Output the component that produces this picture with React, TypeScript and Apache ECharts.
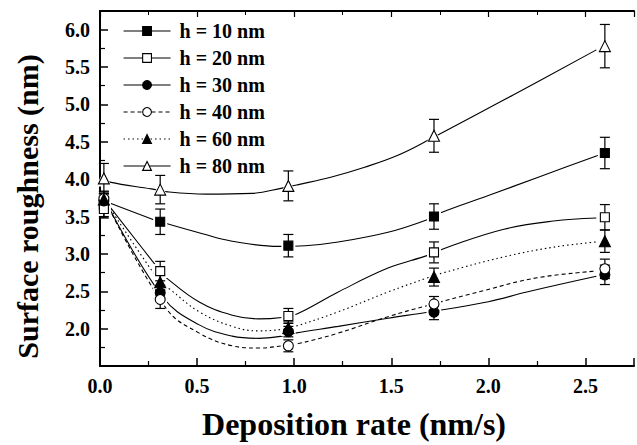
import React, { useEffect, useRef } from "react";
import * as echarts from "echarts";

// Measurement positions (deposition rate, nm/s)
const rates = [0.02, 0.31, 0.97, 1.72, 2.6];

// Measured roughness (nm) and error bar half-widths
const h10 = [3.65, 3.43, 3.11, 3.5, 4.35];
const h10Err = [0.15, 0.17, 0.15, 0.17, 0.21];
const h20 = [3.6, 2.77, 2.17, 3.02, 3.49];
const h20Err = [0.12, 0.13, 0.1, 0.14, 0.17];
const h30 = [3.71, 2.48, 1.96, 2.22, 2.72];
const h30Err = [0.1, 0.1, 0.07, 0.1, 0.13];
const h40 = [3.74, 2.39, 1.77, 2.33, 2.8];
const h40Err = [0.1, 0.12, 0.08, 0.1, 0.13];
const h60 = [3.73, 2.62, 2.01, 2.69, 3.17];
const h60Err = [0.1, 0.1, 0.08, 0.12, 0.15];
const h80 = [4.01, 3.86, 3.91, 4.58, 5.78];
const h80Err = [0.2, 0.19, 0.2, 0.22, 0.29];

// Fitted curves: [x, y]
const fit10 = [[0.02, 3.71], [0.273, 3.46], [0.31, 3.43], [0.528, 3.27], [0.681, 3.17], [0.92, 3.1], [1.056, 3.11], [1.227, 3.16], [1.483, 3.29], [1.687, 3.46], [1.755, 3.55], [2.0, 3.78], [2.25, 4.02], [2.556, 4.31], [2.6, 4.35]];
const fit20 = [[0.03, 3.7], [0.31, 2.77], [0.332, 2.7], [0.511, 2.355], [0.681, 2.18], [0.818, 2.13], [0.937, 2.15], [1.014, 2.195], [1.227, 2.49], [1.483, 2.81], [1.687, 2.98], [1.79, 3.09], [2.08, 3.33], [2.335, 3.44], [2.556, 3.48]];
const fit30 = [[0.03, 3.7], [0.324, 2.42], [0.511, 2.05], [0.681, 1.9], [0.818, 1.87], [0.937, 1.9], [1.005, 1.94], [1.227, 2.03], [1.483, 2.14], [1.687, 2.22], [2.0, 2.36], [2.198, 2.49], [2.556, 2.7]];
const fit40 = [[0.03, 3.7], [0.341, 2.27], [0.511, 1.94], [0.681, 1.77], [0.818, 1.74], [0.937, 1.77], [1.022, 1.8], [1.227, 1.94], [1.483, 2.16], [1.687, 2.31], [1.977, 2.51], [2.25, 2.68], [2.556, 2.77]];
const fit60 = [[0.03, 3.7], [0.31, 2.62], [0.358, 2.53], [0.511, 2.225], [0.681, 2.03], [0.818, 1.97], [0.937, 1.99], [1.005, 2.03], [1.227, 2.225], [1.483, 2.49], [1.687, 2.68], [1.772, 2.75], [2.08, 2.96], [2.335, 3.09], [2.556, 3.16]];
const fit80 = [[0.02, 4.01], [0.051, 3.96], [0.264, 3.87], [0.349, 3.83], [0.545, 3.8], [0.784, 3.81], [0.937, 3.88], [1.022, 3.927], [1.193, 4.03], [1.363, 4.16], [1.534, 4.32], [1.696, 4.53], [2.13, 5.13], [2.556, 5.73]];

const names = ["h = 10 nm", "h = 20 nm", "h = 30 nm", "h = 40 nm", "h = 60 nm", "h = 80 nm"];

const FONT = "Times New Roman, Liberation Serif, DejaVu Serif, serif";

export default function App() {
  const ref = useRef<HTMLDivElement>(null);
  useEffect(() => {
    document.body.style.margin = "0";
    if (!ref.current) return;
    const chart = echarts.init(ref.current, undefined, { renderer: "svg" });

    const groups = [
      { name: names[0], y: h10, e: h10Err, fit: fit10, symbol: "rect", size: 9, fill: "#000", dash: "solid" as any },
      { name: names[1], y: h20, e: h20Err, fit: fit20, symbol: "rect", size: 9, fill: "#fff", dash: "solid" as any },
      { name: names[2], y: h30, e: h30Err, fit: fit30, symbol: "circle", size: 10, fill: "#000", dash: "solid" as any },
      { name: names[3], y: h40, e: h40Err, fit: fit40, symbol: "circle", size: 10, fill: "#fff", dash: [4, 3] as any },
      { name: names[4], y: h60, e: h60Err, fit: fit60, symbol: "triangle", size: 11, fill: "#000", dash: [1.5, 3] as any },
      { name: names[5], y: h80, e: h80Err, fit: fit80, symbol: "triangle", size: 11, fill: "#fff", dash: "solid" as any },
    ];

    const series: any[] = [];
    groups.forEach((g, gi) => {
      series.push({
        name: "fit" + gi,
        type: "line",
        data: g.fit,
        smooth: 0.4,
        symbol: "none",
        silent: true,
        z: 1,
        lineStyle: { color: "#000", width: 1.1, type: g.dash },
      });
      series.push({
        name: "halo" + gi,
        type: "scatter",
        data: rates.map((x, i) => [x, g.y[i]]),
        symbol: g.symbol,
        symbolSize: g.size + 5,
        itemStyle: { color: "#fff", opacity: 1 },
        silent: true,
        z: 2,
      });
      series.push({
        name: "err" + gi,
        type: "custom",
        data: rates.map((x, i) => [x, g.y[i] - g.e[i], g.y[i] + g.e[i]]),
        encode: { x: 0, y: [1, 2] },
        silent: true,
        z: 3,
        renderItem: (params: any, api: any) => {
          const x = api.value(0);
          const p1 = api.coord([x, api.value(1)]);
          const p2 = api.coord([x, api.value(2)]);
          const w = 5;
          const st = { stroke: "#000", lineWidth: 1.2 };
          return {
            type: "group",
            children: [
              { type: "line", shape: { x1: p1[0], y1: p1[1], x2: p2[0], y2: p2[1] }, style: st },
              { type: "line", shape: { x1: p1[0] - w, y1: p1[1], x2: p1[0] + w, y2: p1[1] }, style: st },
              { type: "line", shape: { x1: p2[0] - w, y1: p2[1], x2: p2[0] + w, y2: p2[1] }, style: st },
            ],
          };
        },
      });
      series.push({
        name: g.name,
        type: "line",
        data: rates.map((x, i) => [x, g.y[i]]),
        symbol: g.symbol,
        symbolSize: g.size,
        showSymbol: true,
        z: 4,
        lineStyle: { color: "#000", width: 1.1, type: g.dash, opacity: 0 },
        itemStyle: { color: g.fill, borderColor: "#000", borderWidth: 1.1, opacity: 1 },
      });
    });

    const tickLabel = {
      fontFamily: FONT,
      fontWeight: "bold" as const,
      fontSize: 20,
      color: "#000",
    };

    chart.setOption({
      animation: false,
      backgroundColor: "#fff",
      textStyle: { fontFamily: FONT },
      grid: { left: 100, right: 0, top: 11, bottom: 71, containLabel: false },
      legend: {
        orient: "vertical",
        left: 123,
        top: 21,
        padding: 0,
        itemWidth: 47,
        itemHeight: 11,
        itemGap: 7,
        selectedMode: false,
        textStyle: { fontFamily: FONT, fontWeight: "bold", fontSize: 20, color: "#000", padding: [0, 0, 0, 4] },
        data: groups.map((g) => ({
          name: g.name,
          lineStyle: { opacity: 1, color: "#000", width: 1.1, type: g.dash },
          itemStyle: { color: g.fill, borderColor: "#000", borderWidth: 1.1 },
        })),
      },
      xAxis: [
        {
          type: "value",
          min: 0,
          max: 2.75,
          interval: 0.5,
          name: "Deposition rate (nm/s)",
          nameLocation: "middle",
          nameGap: 42,
          nameTextStyle: { fontFamily: FONT, fontWeight: "bold", fontSize: 32, color: "#000", padding: [0, 26, 0, 0] },
          axisLine: { show: true, lineStyle: { color: "#000", width: 2 } },
          axisTick: { show: true, inside: true, length: 8, lineStyle: { color: "#000", width: 1.5 } },
          minorTick: { show: true, splitNumber: 2, length: 5, lineStyle: { color: "#000", width: 1.2 } },
          splitLine: { show: false },
          axisLabel: {
            ...tickLabel,
            margin: 10,
            formatter: (v: number) => (Math.abs(v * 2 - Math.round(v * 2)) < 1e-6 ? v.toFixed(1) : ""),
          },
        },
        {
          type: "value",
          position: "top",
          min: 0,
          max: 2.75,
          interval: 0.5,
          axisLine: { show: true, lineStyle: { color: "#000", width: 2 } },
          axisTick: { show: true, inside: true, length: 6, lineStyle: { color: "#000", width: 1.2 } },
          minorTick: { show: true, splitNumber: 2, length: 4, lineStyle: { color: "#000", width: 1 } },
          splitLine: { show: false },
          axisLabel: { show: false },
        },
      ],
      yAxis: {
        type: "value",
        min: 1.5,
        max: 6.25,
        interval: 0.5,
        name: "Surface roughness (nm)",
        nameLocation: "middle",
        nameGap: 58,
        nameTextStyle: { fontFamily: FONT, fontWeight: "bold", fontSize: 30, color: "#000", padding: [0, 36, 0, 0] },
        axisLine: { show: true, lineStyle: { color: "#000", width: 2 } },
        axisTick: { show: true, inside: true, length: 8, lineStyle: { color: "#000", width: 1.5 } },
        minorTick: { show: true, splitNumber: 2, length: 5, lineStyle: { color: "#000", width: 1.2 } },
        splitLine: { show: false },
        axisLabel: {
          ...tickLabel,
          margin: 10,
          formatter: (v: number) => (v >= 1.99 && v <= 6.01 && Math.abs(v * 2 - Math.round(v * 2)) < 1e-6 ? v.toFixed(1) : ""),
        },
      },
      series,
    });

    return () => chart.dispose();
  }, []);
  return <div ref={ref} style={{ width: 637, height: 445 }} />;
}
